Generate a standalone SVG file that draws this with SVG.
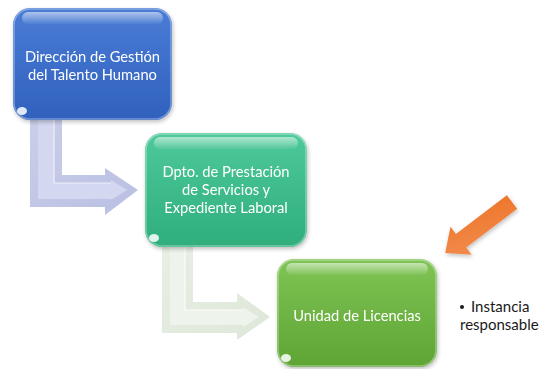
<svg xmlns="http://www.w3.org/2000/svg" width="540" height="369" viewBox="0 0 540 369">
  <defs>
    <linearGradient id="gBlue" x1="0" y1="0" x2="0" y2="1">
      <stop offset="0" stop-color="#4a7cd6"/>
      <stop offset="1" stop-color="#3061bd"/>
    </linearGradient>
    <linearGradient id="gTeal" x1="0" y1="0" x2="0" y2="1">
      <stop offset="0" stop-color="#4ec99a"/>
      <stop offset="1" stop-color="#2fae7c"/>
    </linearGradient>
    <linearGradient id="gGreen" x1="0" y1="0" x2="0" y2="1">
      <stop offset="0" stop-color="#7fc454"/>
      <stop offset="1" stop-color="#5ea535"/>
    </linearGradient>
    <linearGradient id="gloss" x1="0" y1="0" x2="0" y2="1">
      <stop offset="0" stop-color="#ffffff" stop-opacity="0.55"/>
      <stop offset="1" stop-color="#ffffff" stop-opacity="0.05"/>
    </linearGradient>
    <linearGradient id="gConn1" x1="0" y1="0" x2="1" y2="1">
      <stop offset="0" stop-color="#c9cee9"/>
      <stop offset="1" stop-color="#b9bfe2"/>
    </linearGradient>
    <linearGradient id="gConn2" x1="0" y1="0" x2="1" y2="1">
      <stop offset="0" stop-color="#e8efe5"/>
      <stop offset="1" stop-color="#dde7d8"/>
    </linearGradient>
    <linearGradient id="gOrange" x1="1" y1="0" x2="0" y2="1">
      <stop offset="0" stop-color="#f28d52"/>
      <stop offset="1" stop-color="#ed7425"/>
    </linearGradient>
    <filter id="sh" x="-20%" y="-20%" width="140%" height="140%">
      <feGaussianBlur in="SourceAlpha" stdDeviation="2"/>
      <feOffset dx="1" dy="2"/>
      <feComponentTransfer><feFuncA type="linear" slope="0.25"/></feComponentTransfer>
      <feMerge><feMergeNode/><feMergeNode in="SourceGraphic"/></feMerge>
    </filter>
  </defs>
  <style>
    .lbl { font-family: Lato, "Liberation Sans", sans-serif; font-size: 14.7px; fill: #ffffff; text-anchor: middle; }
    .side { font-family: Lato, "Liberation Sans", sans-serif; font-size: 15px; fill: #1a1a1a; }
    .gl { fill: url(#gloss); }
    .glint { fill: #ffffff; opacity: 0.85; }
    .edge { fill: none; stroke: #ffffff; stroke-opacity: 0.35; stroke-width: 1.5; }
  </style>

  <g id="connectors">
    <g id="conn1">
      <path d="M30,120 L62,120 L62,175 L105,175 L105,168 L138,190 L105,215 L105,207 L30,207 Z" fill="url(#gConn1)"/>
      <path d="M38,120 L54,120 L54,183 L111,183 L111,180 L127,190 L111,200 L111,199 L38,199 Z" fill="#d3d7ef"/>
      <path d="M54,120 L54,183 L111,183" fill="none" stroke="#eef0fa" stroke-width="1.2"/>
    </g>
    <g id="conn2">
      <path d="M162,247 L193,247 L193,302 L237,302 L237,293 L270,317 L237,340 L237,333 L162,333 Z" fill="url(#gConn2)"/>
      <path d="M170,247 L185,247 L185,310 L243,310 L243,307 L259,317 L243,327 L243,325 L170,325 Z" fill="#eef3ec"/>
      <path d="M185,247 L185,310 L243,310" fill="none" stroke="#fafcf9" stroke-width="1.2"/>
    </g>
  </g>

  <g id="node1" filter="url(#sh)">
    <rect x="13" y="8" width="159" height="112" rx="17" fill="url(#gBlue)"/>
    <rect x="22" y="12" width="141" height="12" rx="6" class="gl"/>
    <rect x="14" y="9" width="157" height="110" rx="16" class="edge"/>
    <ellipse cx="22" cy="111" rx="5" ry="4" class="glint"/>
    <text class="lbl" x="92.5" y="62">Dirección de Gestión</text>
    <text class="lbl" x="92.5" y="80">del Talento Humano</text>
  </g>

  <g id="node2" filter="url(#sh)">
    <rect x="145" y="133" width="162" height="114" rx="17" fill="url(#gTeal)"/>
    <rect x="154" y="137" width="144" height="12" rx="6" class="gl"/>
    <rect x="146" y="134" width="160" height="112" rx="16" class="edge"/>
    <ellipse cx="154" cy="238" rx="5" ry="4" class="glint"/>
    <text class="lbl" x="226" y="177">Dpto. de Prestación</text>
    <text class="lbl" x="226" y="195">de Servicios y</text>
    <text class="lbl" x="226" y="213">Expediente Laboral</text>
  </g>

  <g id="node3" filter="url(#sh)">
    <rect x="277" y="259" width="160" height="108" rx="17" fill="url(#gGreen)"/>
    <rect x="286" y="263" width="142" height="12" rx="6" class="gl"/>
    <rect x="278" y="260" width="158" height="106" rx="16" class="edge"/>
    <ellipse cx="286" cy="358" rx="5" ry="4" class="glint"/>
    <text class="lbl" x="357" y="321">Unidad de Licencias</text>
  </g>

  <g id="pointer" filter="url(#sh)">
    <polygon transform="translate(512,202) rotate(142.7)" points="0,-8.5 64,-8.5 64,-17.5 84,0 64,17.5 64,8.5 0,8.5" fill="url(#gOrange)"/>
  </g>

  <g id="note">
    <circle cx="462" cy="307" r="2" fill="#1a1a1a"/>
    <text class="side" x="471" y="312">Instancia</text>
    <text class="side" x="460" y="330">responsable</text>
  </g>
</svg>
